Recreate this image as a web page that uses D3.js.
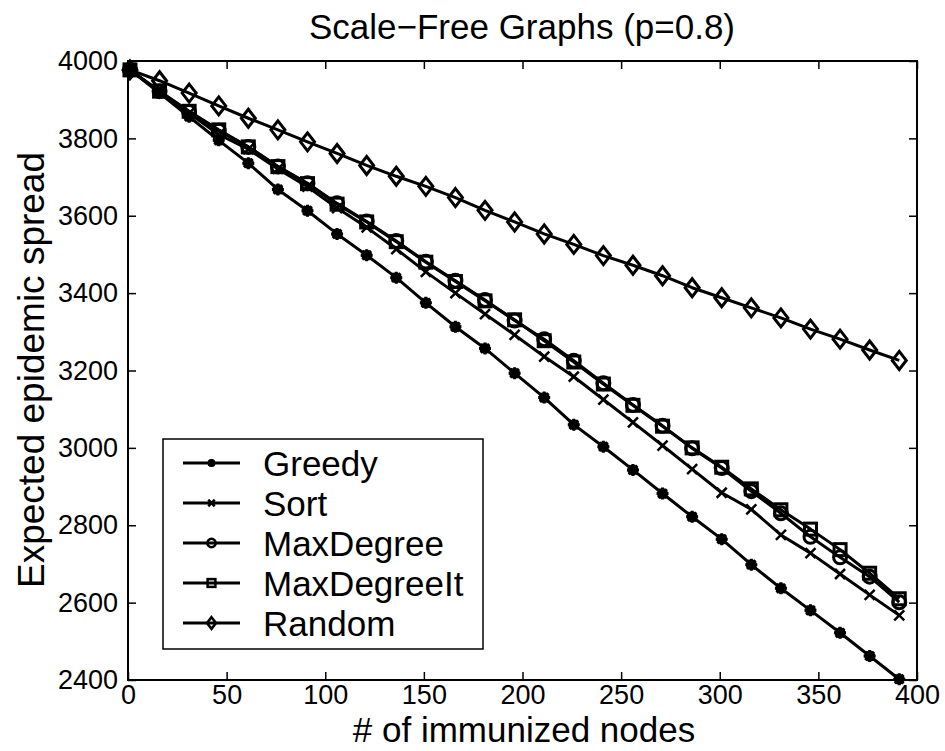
<!DOCTYPE html>
<html>
<head>
<meta charset="utf-8">
<script src="https://cdn.jsdelivr.net/npm/d3@7"></script>
<style>
  body { margin: 0; background: #fff; }
  text { font-family: "Liberation Sans", Arial, Helvetica, sans-serif; fill: #000; }
</style>
</head>
<body>
<div id="chart"></div>
<script>
// # of immunized nodes for every sample
const nodes = [1, 16, 31, 46, 61, 76, 91, 106, 121, 136, 151, 166, 181, 196, 211, 226, 241, 256, 271, 286, 301, 316, 331, 346, 361, 376, 391]

const greedy = [3977, 3917, 3856, 3795, 3736, 3668, 3613, 3553, 3498, 3440, 3375, 3313, 3257, 3193, 3130, 3060, 3003, 2943, 2882, 2822, 2764, 2698, 2637, 2580, 2522, 2462, 2402]
const sort = [3977, 3920, 3865, 3810, 3772, 3721, 3675, 3620, 3570, 3514, 3455, 3400, 3346, 3292, 3236, 3184, 3125, 3066, 3006, 2945, 2884, 2841, 2775, 2728, 2674, 2620, 2567]
const maxDegree = [3977, 3922, 3868, 3820, 3778, 3727, 3684, 3632, 3585, 3535, 3481, 3432, 3382, 3329, 3281, 3225, 3167, 3111, 3057, 2999, 2948, 2888, 2831, 2770, 2717, 2667, 2601]
const maxDegreeIt = [3977, 3922, 3870, 3822, 3778, 3727, 3683, 3630, 3584, 3533, 3480, 3430, 3380, 3331, 3277, 3222, 3165, 3110, 3056, 3000, 2950, 2894, 2840, 2790, 2737, 2676, 2610]
const random = [3977, 3949, 3917, 3884, 3852, 3822, 3791, 3761, 3730, 3702, 3676, 3647, 3614, 3584, 3553, 3526, 3497, 3472, 3445, 3414, 3388, 3362, 3336, 3307, 3281, 3253, 3226]

const seriesNames = ['Greedy', 'Sort', 'MaxDegree', 'MaxDegreeIt', 'Random']
const seriesValues = [greedy, sort, maxDegree, maxDegreeIt, random]
const seriesMarkers = ['star', 'cross', 'circle', 'square', 'diamond']

const xTicks = [0, 50, 100, 150, 200, 250, 300, 350, 400]
const yTicks = [2400, 2600, 2800, 3000, 3200, 3400, 3600, 3800, 4000]

const margin = {top: 61, right: 28, bottom: 71, left: 128}
const svgWidth = 945
const svgHeight = 751
const width = svgWidth - margin.left - margin.right
const height = svgHeight - margin.top - margin.bottom

let svg = d3.select('#chart')
  .append('svg')
  .attr('width', svgWidth)
  .attr('height', svgHeight)

let xScale = d3.scaleLinear().domain([0, 400]).range([0, width])
let yScale = d3.scaleLinear().domain([2400, 4000]).range([height, 0])

let plot = svg.append('g')
  .attr('transform', 'translate(' + margin.left + ',' + margin.top + ')')

// draws one marker shape at the origin of g
function drawMarker(g, type, s) {
  if (type === 'circle') {
    g.append('circle').attr('r', 6.5 * s)
  } else if (type === 'square') {
    g.append('rect').attr('x', -6 * s).attr('y', -6 * s).attr('width', 12 * s).attr('height', 12 * s)
  } else if (type === 'diamond') {
    g.append('path').attr('d', `M0,${-9 * s}L${7 * s},0L0,${9 * s}L${-7 * s},0Z`)
  } else if (type === 'cross') {
    let r = 5 * s
    g.append('path').attr('d', `M${-r},${-r}L${r},${r}M${-r},${r}L${r},${-r}`)
  } else {
    // asterisk: thick spokes plus a filled core, reads as a dark blob
    let r = 6 * s, d = 4.3 * s
    g.append('path').attr('d', `M${-r},0H${r}M0,${-r}V${r}M${-d},${-d}L${d},${d}M${-d},${d}L${d},${-d}`)
    g.append('circle').attr('r', 4 * s).attr('fill', '#000')
  }
}

// axes, MATLAB style: ticks point inward on all four sides
let xAxis = plot.append('g')
  .attr('transform', 'translate(0,' + height + ')')
  .call(d3.axisBottom(xScale).tickValues(xTicks).tickSizeInner(-8).tickSizeOuter(0).tickPadding(5))
plot.append('g')
  .call(d3.axisTop(xScale).tickValues(xTicks).tickSizeInner(-8).tickSizeOuter(0).tickFormat(''))
let yAxis = plot.append('g')
  .call(d3.axisLeft(yScale).tickValues(yTicks).tickFormat(d3.format('d')).tickSizeInner(-8).tickSizeOuter(0).tickPadding(10))
plot.append('g')
  .attr('transform', 'translate(' + width + ',0)')
  .call(d3.axisRight(yScale).tickValues(yTicks).tickSizeInner(-8).tickSizeOuter(0).tickFormat(''))

plot.selectAll('.domain').remove()
plot.selectAll('.tick line').attr('stroke', '#000').attr('stroke-width', 1.5)
plot.selectAll('.tick text')
  .style('font-size', '27px')
  .attr('font-family', null)
xAxis.selectAll('.tick text').attr('dy', '0.72em')

plot.append('rect')
  .attr('width', width)
  .attr('height', height)
  .attr('fill', 'none')
  .attr('stroke', '#000')
  .attr('stroke-width', 2)

// lines and markers
let line = d3.line()
  .x((d, i) => xScale(nodes[i]))
  .y(d => yScale(d))

seriesValues.forEach((vals, k) => {
  plot.append('path')
    .datum(vals)
    .attr('d', line)
    .attr('fill', 'none')
    .attr('stroke', '#000')
    .attr('stroke-width', 3)
    .attr('stroke-linejoin', 'round')

  vals.forEach((v, i) => {
    let g = plot.append('g')
      .attr('transform', 'translate(' + xScale(nodes[i]) + ',' + yScale(v) + ')')
      .attr('fill', 'none')
      .attr('stroke', '#000')
      .attr('stroke-width', seriesMarkers[k] === 'cross' ? 2.5 : 3)
    drawMarker(g, seriesMarkers[k], 1)
  })
})

// legend
let legend = svg.append('g').attr('transform', 'translate(163,439)')
legend.append('rect')
  .attr('width', 320)
  .attr('height', 210)
  .attr('fill', '#fff')
  .attr('stroke', '#000')
  .attr('stroke-width', 1.5)

seriesNames.forEach((name, k) => {
  let row = legend.append('g').attr('transform', 'translate(0,' + (24 + k * 40) + ')')
  row.append('line')
    .attr('x1', 20).attr('x2', 77)
    .attr('stroke', '#000').attr('stroke-width', 3)
  let m = row.append('g')
    .attr('transform', 'translate(48.5,0)')
    .attr('fill', 'none').attr('stroke', '#000').attr('stroke-width', 2.5)
  drawMarker(m, seriesMarkers[k], 0.65)
  row.append('text')
    .attr('x', 100)
    .attr('dy', '0.36em')
    .style('font-size', '35px')
    .text(name)
})

// title and axis labels
svg.append('text')
  .attr('x', 522)
  .attr('y', 38.5)
  .attr('text-anchor', 'middle')
  .style('font-size', '35px')
  .text('Scale\u2212Free Graphs (p=0.8)')

svg.append('text')
  .attr('x', 524)
  .attr('y', 742)
  .attr('text-anchor', 'middle')
  .style('font-size', '35px')
  .text('# of immunized nodes')

svg.append('text')
  .attr('transform', 'translate(44,370) rotate(-90)')
  .attr('text-anchor', 'middle')
  .style('font-size', '37px')
  .text('Expected epidemic spread')
</script>
</body>
</html>
